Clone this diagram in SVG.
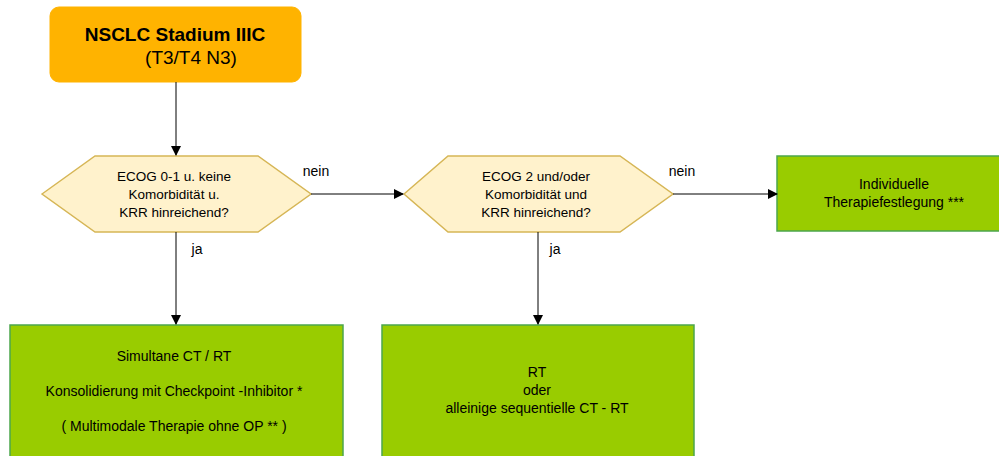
<svg xmlns="http://www.w3.org/2000/svg" width="999" height="456" viewBox="0 0 999 456">
<defs>
<marker id="arr" markerWidth="10" markerHeight="10" refX="9" refY="5" orient="auto" markerUnits="userSpaceOnUse">
<path d="M0,0 L10,5 L0,10 Z" fill="#000"/>
</marker>
<style>
text{font-family:"Liberation Sans",Arial,sans-serif;fill:#000;text-anchor:middle}
.t{font-size:14px}
.td{font-size:13.5px}
.dec{fill:#FFF2CC;stroke:#D6B656;stroke-width:1.5}
.box{fill:#99CC00;stroke:#4CA64C;stroke-width:1.5}
.ln{stroke:#000;stroke-width:1;fill:none}
</style>
</defs>
<rect width="999" height="456" fill="#fff"/>
<g id="start">
<rect x="50" y="7" width="251" height="75" rx="9" fill="#FFB300" stroke="#FFB300"/>
<text x="175" y="41" style="font-size:19px;font-weight:bold">NSCLC Stadium IIIC</text>
<text x="191" y="64" style="font-size:19px">(T3/T4 N3)</text>
</g>
<g id="d1">
<polygon class="dec" points="42,194 95,156 258,156 311,194 258,232 95,232"/>
<text class="td" x="174" y="181">ECOG 0-1 u. keine</text>
<text class="td" x="174" y="199">Komorbidität u.</text>
<text class="td" x="174" y="217">KRR hinreichend?</text>
</g>
<g id="d2">
<polygon class="dec" points="404,194 448,156 620,156 673,194 620,232 448,232"/>
<text class="td" x="536" y="181">ECOG 2 und/oder</text>
<text class="td" x="536" y="199">Komorbidität und</text>
<text class="td" x="536" y="217">KRR hinreichend?</text>
</g>
<g id="b3">
<rect class="box" x="777" y="156" width="225" height="75"/>
<text class="t" x="894" y="189">Individuelle</text>
<text class="t" x="894" y="207">Therapiefestlegung ***</text>
</g>
<g id="b1">
<rect class="box" x="10" y="325" width="333" height="140"/>
<text class="t" x="174" y="361">Simultane CT / RT</text>
<text class="t" x="174" y="396">Konsolidierung mit Checkpoint -Inhibitor *</text>
<text class="t" x="174" y="431">( Multimodale Therapie ohne OP ** )</text>
</g>
<g id="b2">
<rect class="box" x="382" y="325" width="312" height="140"/>
<text class="t" x="537" y="377">RT</text>
<text class="t" x="537" y="395">oder</text>
<text class="t" x="537" y="413">alleinige sequentielle CT  - RT</text>
</g>
<g id="connectors">
<line class="ln" x1="176" y1="82" x2="176" y2="155" marker-end="url(#arr)"/>
<line class="ln" x1="311" y1="194" x2="403" y2="194" marker-end="url(#arr)" stroke="#333"/>
<line class="ln" x1="673" y1="194" x2="777" y2="194" marker-end="url(#arr)"/>
<line class="ln" x1="176" y1="232" x2="176" y2="324" marker-end="url(#arr)"/>
<line class="ln" x1="538" y1="232" x2="538" y2="324" marker-end="url(#arr)"/>
<text class="t" x="316" y="176">nein</text>
<text class="t" x="682" y="176">nein</text>
<text class="t" x="197" y="254">ja</text>
<text class="t" x="555" y="254">ja</text>
</g>
</svg>
